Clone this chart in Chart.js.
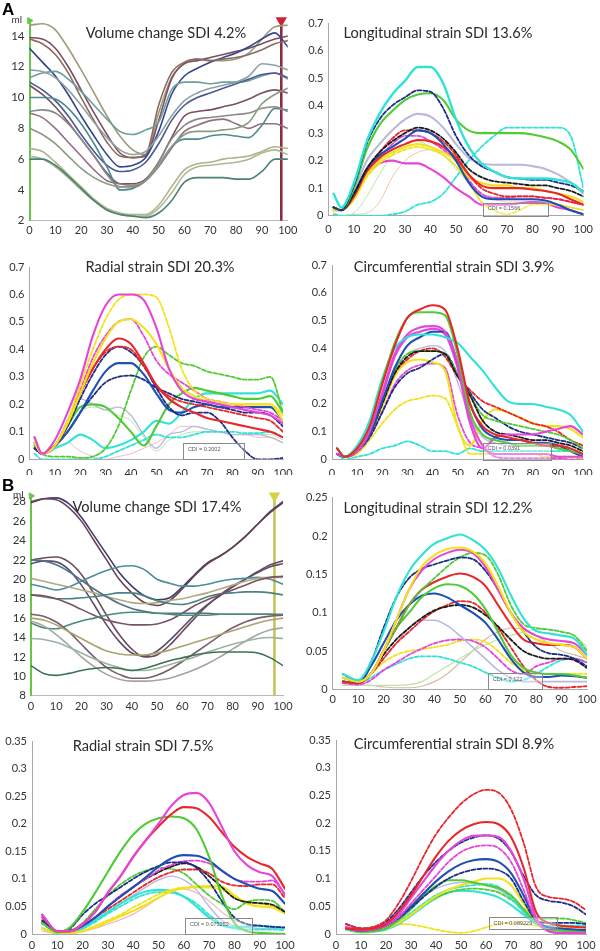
<!DOCTYPE html>
<html><head><meta charset="utf-8">
<script src="https://cdn.jsdelivr.net/npm/chart.js@4.4.1/dist/chart.umd.min.js"></script>
<style>
html,body{margin:0;padding:0;background:#fff}
#wrap{position:relative;width:600px;height:951px;overflow:hidden;background:#fff}
#wrap canvas{position:absolute}
.ttl{position:absolute;transform:translate(-50%,-50%);font-family:Lato,'Open Sans',sans-serif;font-size:14.6px;color:#2b2b2b;white-space:nowrap}
.lbl{position:absolute;font-family:'Liberation Sans',Arial,sans-serif;font-weight:bold;font-size:17px;color:#000}
.ml{position:absolute;font-family:Lato,sans-serif;font-size:10px;color:#333}
</style></head><body><div id="wrap"></div>
<script>
// ---------- x grids / ticks ----------
const volX  = [0,5,10,15,20,25,30,35,40,45,50,55,60,65,70,75,80,85,90,95,100];
const strAX = [2,5,10,15,20,25,30,35,40,45,50,55,60,65,70,75,80,85,90,95,100];
const strBX = [4,10,15,20,25,30,35,40,45,50,55,60,65,70,75,80,85,90,95,100];
const xTicks = [0,10,20,30,40,50,60,70,80,90,100];
const volAY = [2,4,6,8,10,12,14];
const volBY = [8,10,12,14,16,18,20,22,24,26,28];
const strAY = [0,0.1,0.2,0.3,0.4,0.5,0.6,0.7];
const lonBY = [0,0.05,0.1,0.15,0.2,0.25];
const strBY = [0,0.05,0.1,0.15,0.2,0.25,0.3,0.35];

// ---------- A: volume change (ml) ----------
const volA1  = [14.7,14.8,14.4,13.2,11.8,10.3,8.8,7.5,6.6,6.3,9.0,11.3,12.2,12.5,12.4,12.4,12.5,12.9,13.8,14.6,14.7];
const volA2  = [13.9,13.8,13.2,12.0,10.5,9.0,7.6,6.4,6.1,6.2,8.5,11.2,12.2,12.4,12.6,12.8,13.0,13.2,13.5,13.8,14.0];
const volA3  = [13.2,12.3,11.4,10.2,8.8,7.5,6.3,5.5,5.6,6.1,7.8,10.2,11.4,11.9,12.3,12.6,12.9,13.3,13.8,14.2,13.3];
const volA4  = [13.8,13.5,12.8,11.6,10.0,8.5,7.1,6.2,6.1,6.3,9.5,11.6,12.3,12.5,12.4,12.5,12.6,12.8,13.1,13.5,13.7];
const volA5  = [11.3,11.6,11.7,11.2,10.4,9.5,8.6,7.8,7.6,7.9,8.4,10.5,11.0,11.0,10.9,11.0,11.0,11.1,11.4,11.6,11.2];
const volA6  = [11.0,10.5,9.8,8.8,7.6,6.5,5.6,5.2,5.3,5.8,7.0,8.5,9.5,10.0,10.3,10.6,10.9,11.2,11.5,11.6,11.3];
const volA7  = [11.8,11.7,11.3,10.5,9.5,8.4,7.4,6.6,6.3,6.5,7.5,8.8,9.8,10.3,10.6,10.8,11.0,11.4,12.2,12.1,11.8];
const volA8  = [10.8,10.2,9.4,8.4,7.3,6.2,5.1,4.4,4.4,4.7,5.8,7.4,8.8,9.1,9.2,9.4,9.6,9.9,10.3,10.5,10.3];
const volA9  = [10.0,10.0,9.9,9.3,8.3,7.0,5.5,4.0,4.1,4.6,5.6,6.8,7.3,7.3,7.5,7.6,7.5,7.4,8.2,9.3,9.2];
const volA10 = [9.1,9.2,9.0,8.3,7.3,6.2,5.0,4.2,4.2,4.6,5.8,7.3,8.2,8.6,8.7,8.8,8.9,9.0,9.3,9.4,9.1];
const volA11 = [9.0,8.7,8.0,7.1,6.2,5.3,4.6,4.4,4.3,4.6,5.5,6.7,7.8,8.2,8.5,8.6,8.3,8.0,8.3,8.3,8.0];
const volA12 = [8.0,7.6,7.0,6.2,5.4,4.8,4.4,4.2,4.3,4.6,5.6,6.8,7.6,7.8,7.8,7.9,8.0,8.4,9.6,10.2,10.6];
const volA13 = [6.7,6.5,5.8,5.0,4.2,3.4,2.8,2.5,2.4,2.4,3.0,4.2,5.3,5.7,5.8,6.0,6.1,6.2,6.5,6.8,6.7];
const volA14 = [6.2,6.0,5.5,4.8,4.0,3.3,2.7,2.4,2.3,2.3,2.8,3.8,5.0,5.5,5.6,5.7,5.8,6.0,6.4,6.6,6.3];
const volA15 = [6.0,6.0,5.6,4.9,4.1,3.3,2.7,2.4,2.3,2.2,2.5,3.3,4.5,4.8,4.8,4.8,4.7,4.7,5.2,6.0,6.0];
const volAMarkerX = 97.5;

// ---------- A: longitudinal strain ----------
const lonA_cyan    = [0.08,0.03,0.12,0.27,0.37,0.44,0.49,0.54,0.54,0.48,0.35,0.25,0.19,0.16,0.14,0.135,0.135,0.135,0.13,0.12,0.085];
const lonA_blueD   = [0.03,0.02,0.11,0.26,0.35,0.40,0.43,0.455,0.45,0.39,0.29,0.22,0.18,0.16,0.14,0.135,0.13,0.13,0.12,0.11,0.09];
const lonA_green   = [0.03,0.02,0.10,0.24,0.33,0.38,0.42,0.44,0.445,0.42,0.35,0.31,0.30,0.30,0.30,0.30,0.295,0.285,0.27,0.24,0.17];
const lonA_lav     = [0.03,0.02,0.09,0.20,0.26,0.31,0.35,0.37,0.36,0.32,0.26,0.21,0.19,0.185,0.185,0.185,0.18,0.17,0.15,0.12,0.08];
const lonA_blackD  = [0.03,0.02,0.08,0.17,0.23,0.27,0.30,0.32,0.31,0.28,0.23,0.17,0.14,0.125,0.12,0.115,0.11,0.11,0.10,0.09,0.07];
const lonA_blue    = [0.03,0.02,0.08,0.17,0.22,0.25,0.28,0.31,0.30,0.26,0.20,0.12,0.07,0.06,0.06,0.06,0.06,0.055,0.04,0.02,0.005];
const lonA_redD    = [0.03,0.02,0.08,0.17,0.23,0.28,0.31,0.31,0.30,0.27,0.22,0.15,0.10,0.08,0.07,0.07,0.07,0.065,0.06,0.05,0.04];
const lonA_red     = [0.03,0.02,0.07,0.16,0.21,0.24,0.26,0.275,0.27,0.25,0.21,0.15,0.11,0.10,0.10,0.10,0.095,0.09,0.08,0.06,0.04];
const lonA_yellow  = [0.02,0.02,0.06,0.15,0.20,0.23,0.25,0.26,0.25,0.23,0.20,0.14,0.12,0.11,0.11,0.10,0.10,0.09,0.08,0.07,0.05];
const lonA_yellowD = [0.02,0.02,0.06,0.14,0.19,0.22,0.24,0.25,0.24,0.22,0.18,0.12,0.05,0.02,0.005,0.02,0.04,0.04,0.04,0.03,0.02];
const lonA_mag     = [0.02,0.02,0.07,0.15,0.19,0.20,0.19,0.19,0.17,0.14,0.10,0.07,0.04,0.04,0.04,0.045,0.05,0.045,0.03,0.02,0.005];
const lonA_magD    = [0.03,0.02,0.07,0.15,0.21,0.26,0.29,0.29,0.27,0.24,0.20,0.13,0.08,0.065,0.065,0.07,0.07,0.065,0.06,0.05,0.04];
const lonA_cyanD   = [0.005,0.0,0.0,0.0,0.0,0.005,0.015,0.04,0.05,0.08,0.14,0.20,0.25,0.29,0.32,0.32,0.32,0.32,0.32,0.29,0.10];
const lonA_peach   = [0.01,0.0,0.005,0.01,0.05,0.14,0.20,0.23,0.24,0.22,0.18,0.12,0.08,0.06,0.05,0.05,0.05,0.05,0.04,0.03,0.02];
const lonA_ltgreen = [0.01,0.0,0.01,0.07,0.15,0.22,0.26,0.27,0.25,0.22,0.17,0.12,0.08,0.07,0.06,0.06,0.06,0.05,0.04,0.03,0.02];
const lonA_box = [60.5,86,0,0.047];
const lonA_cdi = 'CDI = 0.1566';

// ---------- A: radial strain ----------
const radA_mag     = [0.08,0.02,0.07,0.17,0.29,0.45,0.56,0.60,0.60,0.58,0.48,0.33,0.25,0.22,0.21,0.20,0.19,0.18,0.17,0.16,0.13];
const radA_yellowD = [0.06,0.02,0.05,0.14,0.27,0.40,0.51,0.58,0.60,0.60,0.59,0.48,0.33,0.25,0.22,0.21,0.20,0.20,0.20,0.20,0.16];
const radA_yellow  = [0.06,0.02,0.05,0.13,0.24,0.35,0.44,0.50,0.51,0.48,0.42,0.33,0.26,0.23,0.21,0.20,0.20,0.20,0.20,0.20,0.14];
const radA_magD    = [0.06,0.02,0.05,0.14,0.25,0.37,0.45,0.50,0.51,0.45,0.36,0.31,0.28,0.25,0.22,0.21,0.20,0.19,0.18,0.17,0.14];
const radA_red     = [0.06,0.02,0.05,0.13,0.24,0.33,0.40,0.44,0.42,0.35,0.27,0.22,0.19,0.17,0.15,0.14,0.13,0.12,0.11,0.10,0.08];
const radA_redD    = [0.06,0.02,0.05,0.13,0.24,0.33,0.39,0.41,0.40,0.34,0.27,0.23,0.21,0.20,0.19,0.18,0.17,0.16,0.15,0.14,0.10];
const radA_navyD   = [0.04,0.02,0.05,0.12,0.22,0.31,0.38,0.41,0.39,0.34,0.26,0.19,0.16,0.17,0.17,0.14,0.08,0.03,0.0,0.0,0.005];
const radA_blue    = [0.04,0.02,0.05,0.10,0.17,0.25,0.32,0.35,0.35,0.31,0.24,0.18,0.17,0.19,0.20,0.19,0.19,0.19,0.19,0.19,0.14];
const radA_blackD  = [0.04,0.02,0.05,0.10,0.17,0.23,0.28,0.30,0.305,0.29,0.26,0.24,0.22,0.21,0.20,0.19,0.18,0.17,0.17,0.16,0.12];
const radA_greenD  = [0.05,0.02,0.01,0.01,0.005,0.01,0.04,0.12,0.25,0.37,0.41,0.38,0.35,0.34,0.32,0.31,0.30,0.29,0.29,0.30,0.17];
const radA_green   = [0.08,0.02,0.05,0.12,0.19,0.20,0.19,0.15,0.10,0.05,0.12,0.20,0.24,0.26,0.25,0.24,0.23,0.22,0.22,0.23,0.17];
const radA_cyan    = [0.05,0.02,0.04,0.06,0.09,0.07,0.04,0.05,0.07,0.10,0.14,0.13,0.17,0.22,0.24,0.24,0.24,0.24,0.24,0.25,0.20];
const radA_cyanD   = [0.02,0.0,0.0,0.0,0.0,0.0,0.01,0.03,0.05,0.07,0.09,0.08,0.08,0.09,0.10,0.10,0.10,0.095,0.095,0.10,0.08];
const radA_lav     = [0.05,0.02,0.04,0.12,0.22,0.20,0.18,0.19,0.16,0.09,0.04,0.09,0.10,0.12,0.11,0.10,0.09,0.09,0.09,0.08,0.06];
const radA_ltgreen = [0.06,0.02,0.04,0.10,0.17,0.19,0.18,0.16,0.14,0.08,0.03,0.07,0.09,0.10,0.10,0.10,0.09,0.09,0.09,0.09,0.07];
const radA_pink    = [0.05,0.02,0.04,0.06,0.03,0.01,0.0,0.01,0.02,0.04,0.06,0.09,0.12,0.12,0.11,0.10,0.09,0.09,0.08,0.08,0.06];
const radA_box = [60.5,84.5,0,0.058];
const radA_cdi = 'CDI = 0.2002';

// ---------- A: circumferential strain ----------
const circA_red     = [0.04,0.01,0.04,0.12,0.27,0.41,0.51,0.54,0.555,0.54,0.40,0.20,0.12,0.09,0.08,0.07,0.06,0.05,0.05,0.04,0.02];
const circA_green   = [0.04,0.01,0.04,0.12,0.28,0.42,0.51,0.53,0.53,0.52,0.38,0.17,0.09,0.07,0.06,0.05,0.05,0.05,0.04,0.03,0.02];
const circA_cyan    = [0.04,0.01,0.05,0.14,0.29,0.40,0.44,0.45,0.45,0.44,0.42,0.37,0.32,0.26,0.21,0.20,0.20,0.19,0.18,0.16,0.10];
const circA_mag     = [0.02,0.01,0.03,0.10,0.24,0.38,0.45,0.475,0.48,0.46,0.35,0.15,0.05,0.02,0.02,0.02,0.02,0.02,0.01,0.01,0.01];
const circA_blue    = [0.02,0.01,0.03,0.09,0.21,0.33,0.41,0.44,0.46,0.46,0.35,0.20,0.11,0.08,0.07,0.07,0.06,0.06,0.05,0.03,0.01];
const circA_blackD  = [0.02,0.01,0.03,0.09,0.20,0.31,0.37,0.39,0.39,0.38,0.30,0.23,0.14,0.10,0.09,0.08,0.07,0.07,0.06,0.05,0.03];
const circA_greenD  = [0.02,0.01,0.03,0.09,0.20,0.32,0.38,0.39,0.39,0.38,0.31,0.23,0.16,0.14,0.13,0.12,0.11,0.10,0.09,0.07,0.04];
const circA_navyD   = [0.02,0.01,0.03,0.08,0.17,0.26,0.31,0.33,0.36,0.38,0.31,0.24,0.18,0.15,0.12,0.10,0.09,0.08,0.07,0.06,0.04];
const circA_redD    = [0.02,0.01,0.03,0.09,0.20,0.31,0.36,0.39,0.40,0.37,0.30,0.25,0.21,0.19,0.17,0.15,0.13,0.12,0.10,0.07,0.05];
const circA_yellow  = [0.02,0.01,0.03,0.09,0.19,0.30,0.35,0.36,0.35,0.32,0.12,0.05,0.14,0.18,0.17,0.15,0.13,0.12,0.12,0.11,0.08];
const circA_magD    = [0.02,0.01,0.03,0.08,0.17,0.27,0.32,0.34,0.345,0.33,0.16,0.06,0.04,0.01,0.005,0.005,0.005,0.005,0.005,0.0,0.0];
const circA_yellowD = [0.02,0.01,0.02,0.07,0.13,0.18,0.21,0.22,0.23,0.22,0.12,0.02,0.02,0.02,0.02,0.02,0.02,0.01,0.01,0.01,0.0];
const circA_cyanD   = [0.02,0.0,0.01,0.02,0.04,0.05,0.065,0.05,0.03,0.03,0.02,0.04,0.03,0.03,0.03,0.03,0.03,0.03,0.03,0.03,0.02];
const circA_mag2    = [0.02,0.01,0.03,0.10,0.23,0.37,0.44,0.46,0.47,0.45,0.33,0.13,0.04,0.08,0.09,0.09,0.09,0.10,0.11,0.12,0.09];
const circA_lav     = [0.02,0.01,0.03,0.09,0.20,0.32,0.38,0.40,0.41,0.39,0.28,0.15,0.08,0.06,0.05,0.05,0.05,0.05,0.04,0.03,0.02];
const circA_box = [60,87,0,0.06];
const circA_cdi = 'CDI = 0.0391';

// ---------- B: volume change (ml) ----------
const volB1  = [27.9,28.3,28.4,27.8,26.4,24.5,22.6,20.7,19.3,18.3,17.9,18.1,19.2,20.5,21.7,22.4,23.3,24.4,25.7,27.0,28.0];
const volB2  = [28.0,28.3,28.2,27.4,26.0,24.0,22.0,20.0,18.6,17.6,17.3,17.8,19.0,20.4,21.6,22.4,23.3,24.4,25.7,26.9,27.9];
const volB3  = [22.0,22.2,22.3,21.8,20.5,18.5,16.3,14.3,12.8,12.0,12.2,13.2,14.6,16.0,17.3,18.4,19.3,20.0,20.7,21.3,21.6];
const volB4  = [21.6,21.9,21.8,21.0,19.4,17.4,15.3,13.6,12.4,12.1,12.6,13.7,15.0,16.3,17.4,18.3,19.2,20.0,20.8,21.5,21.9];
const volB5  = [19.5,19.2,18.9,19.2,19.8,20.4,20.9,21.3,21.4,21.0,20.0,19.6,19.3,19.3,19.5,19.8,20.0,20.1,20.2,20.0,19.5];
const volB6  = [20.1,19.8,19.5,19.2,18.9,18.6,18.2,17.9,17.6,17.5,17.6,17.8,18.0,18.3,18.6,19.0,19.4,19.8,20.1,20.2,20.2];
const volB7  = [18.4,18.2,18.0,18.0,18.1,18.2,18.4,18.6,18.6,18.3,17.8,17.5,17.4,17.7,18.2,18.5,18.6,18.7,18.7,18.6,18.4];
const volB8  = [18.4,18.3,18.0,17.5,16.9,16.3,15.8,15.5,15.3,15.3,15.4,15.8,16.5,17.3,17.9,18.4,18.9,19.4,19.9,20.2,20.3];
const volB9  = [22.0,21.9,21.5,20.8,19.9,19.0,18.2,17.5,17.0,16.7,16.5,16.5,16.5,16.5,16.5,16.4,16.4,16.4,16.4,16.4,16.3];
const volB10 = [15.5,15.0,14.9,15.3,15.7,16.0,16.3,16.5,16.6,16.6,16.5,16.4,16.3,16.3,16.3,16.4,16.4,16.4,16.4,16.4,16.4];
const volB11 = [16.4,16.2,15.6,14.6,13.3,12.0,10.9,10.2,9.8,9.8,10.1,10.7,11.5,12.4,13.3,14.2,15.0,15.6,16.0,16.2,16.3];
const volB12 = [16.0,15.8,15.3,14.6,13.9,13.2,12.6,12.3,12.2,12.2,12.4,12.7,13.1,13.5,13.9,14.3,14.7,15.1,15.5,15.8,16.0];
const volB13 = [15.7,15.2,14.3,13.2,12.0,11.0,10.2,9.7,9.5,9.5,9.6,9.8,10.2,10.7,11.3,12.0,12.8,13.6,14.3,14.8,15.0];
const volB14 = [13.9,13.8,13.5,13.0,12.4,11.8,11.3,10.9,10.6,10.6,10.8,11.2,11.6,12.0,12.5,12.9,13.3,13.6,13.9,14.0,13.9];
const volB15 = [11.1,10.3,10.1,10.3,10.6,10.8,10.9,10.8,10.6,10.8,11.2,11.6,11.9,12.2,12.4,12.5,12.5,12.5,12.4,11.9,11.1];
const volBMarkerX = 96.6;

// ---------- B: longitudinal strain ----------
const lonB_cyan    = [0.02,0.012,0.035,0.075,0.12,0.154,0.175,0.19,0.197,0.202,0.195,0.182,0.158,0.123,0.093,0.076,0.073,0.07,0.066,0.045];
const lonB_yellow  = [0.015,0.01,0.02,0.05,0.09,0.13,0.16,0.175,0.183,0.185,0.18,0.165,0.135,0.10,0.075,0.065,0.06,0.058,0.055,0.04];
const lonB_mag     = [0.015,0.01,0.02,0.05,0.09,0.13,0.155,0.17,0.178,0.182,0.178,0.16,0.13,0.10,0.08,0.07,0.065,0.063,0.06,0.045];
const lonB_blueD   = [0.02,0.01,0.035,0.08,0.12,0.145,0.157,0.163,0.168,0.172,0.17,0.155,0.13,0.10,0.075,0.055,0.047,0.045,0.04,0.03];
const lonB_greenD  = [0.015,0.01,0.02,0.05,0.08,0.11,0.13,0.145,0.16,0.172,0.178,0.175,0.15,0.11,0.085,0.08,0.078,0.075,0.07,0.05];
const lonB_red     = [0.01,0.008,0.02,0.05,0.08,0.11,0.13,0.14,0.147,0.151,0.147,0.135,0.11,0.085,0.065,0.06,0.058,0.058,0.055,0.04];
const lonB_green   = [0.01,0.008,0.02,0.05,0.08,0.10,0.12,0.132,0.137,0.135,0.125,0.105,0.075,0.045,0.028,0.022,0.02,0.02,0.018,0.015];
const lonB_blue    = [0.01,0.008,0.03,0.06,0.09,0.11,0.122,0.125,0.12,0.11,0.10,0.087,0.065,0.04,0.022,0.016,0.016,0.018,0.017,0.015];
const lonB_blackD  = [0.01,0.008,0.02,0.045,0.065,0.08,0.093,0.103,0.108,0.11,0.107,0.097,0.082,0.065,0.05,0.043,0.04,0.04,0.038,0.028];
const lonB_redD    = [0.01,0.008,0.02,0.04,0.06,0.075,0.09,0.102,0.11,0.115,0.113,0.10,0.08,0.055,0.03,0.012,0.003,0.002,0.003,0.004];
const lonB_lav     = [0.01,0.008,0.02,0.04,0.06,0.08,0.09,0.09,0.083,0.07,0.055,0.04,0.025,0.015,0.01,0.01,0.01,0.01,0.01,0.01];
const lonB_magD    = [0.008,0.006,0.012,0.025,0.035,0.045,0.053,0.06,0.064,0.065,0.063,0.055,0.04,0.025,0.02,0.03,0.035,0.04,0.04,0.035];
const lonB_yellowD = [0.01,0.008,0.02,0.035,0.045,0.05,0.052,0.055,0.058,0.063,0.065,0.062,0.05,0.035,0.025,0.02,0.02,0.02,0.02,0.02];
const lonB_cyanD   = [0.01,0.008,0.015,0.025,0.033,0.04,0.043,0.043,0.04,0.035,0.03,0.022,0.015,0.01,0.012,0.02,0.03,0.038,0.04,0.035];
const lonB_tan     = [0.005,0.005,0.005,0.003,0.002,0.002,0.004,0.01,0.02,0.035,0.05,0.065,0.075,0.08,0.078,0.07,0.06,0.05,0.045,0.04];
const lonB_ltgreen = [0.005,0.005,0.005,0.005,0.005,0.006,0.01,0.02,0.03,0.04,0.05,0.058,0.065,0.07,0.075,0.078,0.078,0.075,0.07,0.055];
const lonB_box = [61,82.3,0,0.021];
const lonB_cdi = 'CDI = 0.122';

// ---------- B: radial strain ----------
const radB_mag     = [0.035,0.005,0.005,0.018,0.04,0.075,0.105,0.14,0.17,0.2,0.232,0.252,0.256,0.238,0.195,0.15,0.125,0.112,0.105,0.07];
const radB_red     = [0.035,0.005,0.005,0.018,0.04,0.075,0.105,0.14,0.17,0.195,0.217,0.23,0.228,0.212,0.185,0.158,0.14,0.128,0.118,0.082];
const radB_green   = [0.02,0.003,0.012,0.04,0.075,0.113,0.15,0.18,0.2,0.21,0.213,0.21,0.19,0.14,0.07,0.02,0.005,0.002,0.001,0.0];
const radB_blue    = [0.02,0.005,0.006,0.015,0.03,0.05,0.068,0.085,0.103,0.122,0.137,0.143,0.142,0.133,0.115,0.10,0.09,0.082,0.078,0.055];
const radB_blueD   = [0.025,0.005,0.01,0.035,0.055,0.07,0.085,0.10,0.113,0.123,0.13,0.13,0.12,0.095,0.06,0.03,0.018,0.015,0.013,0.012];
const radB_magD    = [0.03,0.005,0.005,0.015,0.03,0.05,0.07,0.085,0.10,0.115,0.125,0.132,0.133,0.128,0.115,0.10,0.095,0.095,0.097,0.073];
const radB_redD    = [0.03,0.005,0.005,0.015,0.03,0.045,0.06,0.075,0.09,0.103,0.112,0.117,0.117,0.11,0.095,0.088,0.087,0.09,0.09,0.065];
const radB_blackD  = [0.022,0.005,0.006,0.015,0.03,0.05,0.068,0.085,0.10,0.112,0.122,0.128,0.122,0.105,0.085,0.065,0.058,0.056,0.053,0.04];
const radB_greenD  = [0.02,0.004,0.006,0.02,0.045,0.07,0.09,0.105,0.115,0.12,0.118,0.11,0.09,0.07,0.055,0.045,0.058,0.062,0.06,0.04];
const radB_yellow  = [0.01,0.002,0.002,0.005,0.012,0.022,0.032,0.042,0.053,0.066,0.077,0.083,0.086,0.087,0.086,0.07,0.055,0.05,0.048,0.037];
const radB_yellowD = [0.01,0.002,0.002,0.006,0.015,0.025,0.035,0.048,0.06,0.072,0.08,0.084,0.084,0.084,0.08,0.068,0.058,0.055,0.05,0.04];
const radB_cyan    = [0.01,0.002,0.003,0.01,0.025,0.04,0.055,0.068,0.077,0.08,0.078,0.068,0.05,0.03,0.016,0.012,0.014,0.015,0.013,0.011];
const radB_cyanD   = [0.01,0.002,0.003,0.01,0.022,0.037,0.05,0.063,0.072,0.076,0.075,0.068,0.055,0.035,0.018,0.01,0.008,0.008,0.008,0.007];
const radB_lav     = [0.01,0.003,0.004,0.012,0.025,0.04,0.055,0.07,0.085,0.098,0.105,0.098,0.08,0.05,0.025,0.015,0.012,0.01,0.01,0.01];
const radB_pink    = [0.005,0.001,0.001,0.004,0.01,0.018,0.026,0.036,0.05,0.065,0.078,0.082,0.075,0.06,0.04,0.025,0.018,0.015,0.012,0.01];
const radB_box = [60.5,87,0,0.029];
const radB_cdi = 'CDI = 0.075252';

// ---------- B: circumferential strain ----------
const circB_redD    = [0.018,0.01,0.013,0.025,0.055,0.095,0.14,0.18,0.21,0.235,0.252,0.26,0.255,0.225,0.165,0.085,0.067,0.064,0.058,0.043];
const circB_red     = [0.01,0.008,0.01,0.018,0.04,0.07,0.105,0.14,0.168,0.187,0.198,0.202,0.198,0.175,0.12,0.04,0.02,0.015,0.013,0.012];
const circB_mag     = [0.012,0.008,0.01,0.018,0.035,0.065,0.095,0.125,0.15,0.168,0.177,0.178,0.175,0.15,0.10,0.03,0.005,0.002,0.002,0.002];
const circB_blueD   = [0.018,0.01,0.012,0.022,0.045,0.075,0.105,0.13,0.15,0.165,0.174,0.178,0.172,0.148,0.105,0.07,0.06,0.057,0.05,0.035];
const circB_magD    = [0.01,0.006,0.008,0.015,0.03,0.055,0.08,0.105,0.13,0.148,0.157,0.16,0.155,0.13,0.08,0.025,0.005,0.002,0.002,0.002];
const circB_blue    = [0.01,0.006,0.008,0.015,0.03,0.05,0.073,0.095,0.113,0.126,0.133,0.135,0.13,0.11,0.07,0.025,0.012,0.01,0.008,0.007];
const circB_navyD   = [0.012,0.006,0.008,0.015,0.028,0.047,0.067,0.085,0.10,0.11,0.116,0.118,0.115,0.10,0.06,0.025,0.02,0.02,0.02,0.018];
const circB_green   = [0.01,0.004,0.005,0.01,0.025,0.045,0.068,0.087,0.097,0.097,0.093,0.088,0.083,0.07,0.045,0.02,0.008,0.006,0.005,0.005];
const circB_yellow  = [0.01,0.004,0.005,0.01,0.02,0.035,0.052,0.068,0.08,0.088,0.094,0.10,0.10,0.088,0.055,0.02,0.008,0.006,0.005,0.005];
const circB_cyanD   = [0.01,0.004,0.005,0.01,0.022,0.038,0.055,0.07,0.08,0.085,0.088,0.09,0.085,0.065,0.04,0.02,0.015,0.015,0.015,0.015];
const circB_greenD  = [0.01,0.004,0.005,0.01,0.02,0.035,0.052,0.065,0.075,0.08,0.082,0.08,0.075,0.062,0.045,0.03,0.028,0.028,0.025,0.02];
const circB_cyan    = [0.008,0.003,0.004,0.008,0.018,0.033,0.05,0.065,0.075,0.078,0.077,0.073,0.066,0.052,0.035,0.018,0.01,0.008,0.007,0.006];
const circB_yellowD = [0.012,0.01,0.012,0.016,0.018,0.017,0.013,0.008,0.004,0.002,0.005,0.012,0.018,0.02,0.018,0.015,0.013,0.012,0.012,0.01];
const circB_lav     = [0.01,0.006,0.007,0.014,0.03,0.05,0.068,0.082,0.09,0.093,0.092,0.088,0.08,0.065,0.04,0.02,0.012,0.01,0.009,0.008];
const circB_box = [61,88,0.008,0.03];
const circB_cdi = 'CDI = 0.089229';

// ---------- styles ----------
const C = {red:'#e8262b', mag:'#e645d8', blue:'#1f4fb4', navy:'#1c2f86', black:'#1a1a1a', green:'#4fcb36',
  cyan:'#2fe3d5', yellow:'#f1e21a', lav:'#b9b9de', pink:'#f2b7cb', ltgreen:'#b9e6a8', peach:'#f2c6a4', tan:'#d9bba3'};
const D = [4,2];
const S = (v,c,d,w)=>({v, c, d: d?D:[], w: w||(d?1.8:2.1)});

const panels = [
 {rect:[0,0,300,240], area:[29.5,20.6,289.5,220.7], x:volX, yMin:2, yMax:15, yTicks:volAY, xPad:2.7, vol:true,
  axisColor:'#67c64a', marker:volAMarkerX, markerColor:'#8c2c40', markerTip:'#d0203a', title:'Volume change SDI 4.2%', tpos:[166,32],
  series:[S(volA1,'#9c9c78',0,1.6),S(volA2,'#7b4f60',0,1.6),S(volA3,'#34468c',0,1.6),S(volA4,'#8b6a62',0,1.6),S(volA5,'#6f9c9c',0,1.6),
          S(volA6,'#4a5a92',0,1.6),S(volA7,'#8ea2a2',0,1.6),S(volA8,'#7a5062',0,1.6),S(volA9,'#4b8b92',0,1.6),S(volA10,'#8a8a8a',0,1.6),
          S(volA11,'#917083',0,1.6),S(volA12,'#8b9b82',0,1.6),S(volA13,'#b2b28a',0,1.6),S(volA14,'#a9ba92',0,1.6),S(volA15,'#4b8171',0,1.6)]},
 {rect:[300,0,300,240], area:[328.5,23,590,215.7], x:strAX, yMin:0, yMax:0.7, yTicks:strAY, xPad:7,
  title:'Longitudinal strain SDI 13.6%', tpos:[438,31.5], box:lonA_box, cdi:lonA_cdi,
  series:[S(lonA_peach,C.peach,0,1),S(lonA_ltgreen,C.ltgreen,0,1),S(lonA_cyanD,C.cyan,1),S(lonA_lav,C.lav),S(lonA_mag,C.mag),S(lonA_magD,C.mag,1),
          S(lonA_yellowD,C.yellow,1),S(lonA_yellow,C.yellow),S(lonA_red,C.red),S(lonA_redD,C.red,1),S(lonA_blue,C.blue),S(lonA_blackD,C.black,1),
          S(lonA_green,C.green),S(lonA_blueD,C.navy,1),S(lonA_cyan,C.cyan,0,2.4)]},
 {rect:[0,240,300,235], area:[29.5,267,289.5,459.3], x:strAX, yMin:0, yMax:0.7, yTicks:strAY, xPad:7.4,
  title:'Radial strain SDI 20.3%', tpos:[160,266], box:radA_box, cdi:radA_cdi,
  series:[S(radA_pink,C.pink,0,1),S(radA_ltgreen,C.ltgreen,0,1),S(radA_lav,C.lav,0,1.4),S(radA_cyanD,C.cyan,1),S(radA_cyan,C.cyan),
          S(radA_green,C.green),S(radA_greenD,C.green,1),S(radA_blackD,C.navy,1),S(radA_blue,C.blue),S(radA_navyD,C.navy,1),
          S(radA_redD,C.red,1),S(radA_red,C.red),S(radA_magD,C.mag,1),S(radA_yellow,C.yellow),S(radA_yellowD,C.yellow,1),S(radA_mag,C.mag)]},
 {rect:[300,240,300,235], area:[332,265,590,459.5], x:strAX, yMin:0, yMax:0.7, yTicks:strAY, xPad:7.4,
  title:'Circumferential strain SDI 3.9%', tpos:[454,266], box:circA_box, cdi:circA_cdi,
  series:[S(circA_lav,C.lav,0,1.4),S(circA_cyanD,C.cyan,1),S(circA_yellowD,C.yellow,1),S(circA_magD,C.mag,1),S(circA_yellow,C.yellow),
          S(circA_redD,C.red,1),S(circA_navyD,C.navy,1),S(circA_greenD,C.green,1),S(circA_blackD,C.black,1),S(circA_mag2,C.mag),
          S(circA_blue,C.blue),S(circA_mag,C.mag),S(circA_cyan,C.cyan),S(circA_green,C.green),S(circA_red,C.red)]},
 {rect:[0,475,300,240], area:[31,495.9,283,695.7], x:volX, yMin:8, yMax:28.6, yTicks:volBY, xPad:3.7, vol:true,
  axisColor:'#67c64a', marker:volBMarkerX, markerColor:'#c4c45a', markerTip:'#d8d040', title:'Volume change SDI 17.4%', tpos:[157,506],
  series:[S(volB1,'#3e3e6c',0,1.6),S(volB2,'#6c4252',0,1.6),S(volB3,'#6c4c5c',0,1.6),S(volB4,'#5c4c6c',0,1.6),S(volB5,'#4c8c9c',0,1.6),
          S(volB6,'#b2aa82',0,1.6),S(volB7,'#4c8282',0,1.6),S(volB8,'#7c5262',0,1.6),S(volB9,'#52728c',0,1.6),S(volB10,'#4c8c72',0,1.6),
          S(volB11,'#7c5c6c',0,1.6),S(volB12,'#aaa272',0,1.6),S(volB13,'#a4a4a4',0,1.6),S(volB14,'#9cb2a2',0,1.6),S(volB15,'#3c7252',0,1.6)]},
 {rect:[300,475,300,240], area:[332.7,497.7,592.7,689.3], x:strBX, yMin:0, yMax:0.25, yTicks:lonBY, xPad:3.4,
  title:'Longitudinal strain SDI 12.2%', tpos:[438,507], box:lonB_box, cdi:lonB_cdi,
  series:[S(lonB_tan,C.tan,0,1.2),S(lonB_ltgreen,C.ltgreen,0,1.2),S(lonB_cyanD,C.cyan,1),S(lonB_yellowD,C.yellow,1),S(lonB_magD,C.mag,1),
          S(lonB_lav,C.lav,0,1.6),S(lonB_redD,C.red,1),S(lonB_blackD,C.black,1),S(lonB_blue,C.blue),S(lonB_green,C.green),S(lonB_red,C.red),
          S(lonB_greenD,C.green,1),S(lonB_blueD,C.navy,1),S(lonB_mag,C.mag),S(lonB_yellow,C.yellow),S(lonB_cyan,C.cyan)]},
 {rect:[0,715,300,236], area:[32,741,285,934], x:strBX, yMin:0, yMax:0.35, yTicks:strBY, xPad:4.4,
  title:'Radial strain SDI 7.5%', tpos:[143,745], box:radB_box, cdi:radB_cdi,
  series:[S(radB_pink,C.pink,0,1.2),S(radB_lav,C.lav,0,1.4),S(radB_cyanD,C.cyan,1),S(radB_cyan,C.cyan),S(radB_yellowD,C.yellow,1),
          S(radB_yellow,C.yellow),S(radB_greenD,C.green,1),S(radB_blackD,C.black,1),S(radB_redD,C.red,1),S(radB_magD,C.mag,1),
          S(radB_blueD,C.navy,1),S(radB_blue,C.blue),S(radB_green,C.green),S(radB_red,C.red),S(radB_mag,C.mag)]},
 {rect:[300,715,300,236], area:[336,740,588,934], x:strBX, yMin:0, yMax:0.35, yTicks:strBY, xPad:4.4,
  title:'Circumferential strain SDI 8.9%', tpos:[454,743], box:circB_box, cdi:circB_cdi,
  series:[S(circB_lav,C.lav,0,1.4),S(circB_yellowD,C.yellow,1),S(circB_cyan,C.cyan),S(circB_greenD,C.green,1),S(circB_cyanD,C.cyan,1),
          S(circB_yellow,C.yellow),S(circB_green,C.green),S(circB_navyD,C.navy,1),S(circB_blue,C.blue),S(circB_magD,C.mag,1),
          S(circB_blueD,C.navy,1),S(circB_mag,C.mag),S(circB_red,C.red),S(circB_redD,C.red,1)]}
];

const cdiPlugin = {
  id:'cdi',
  afterDatasetsDraw(chart, args, o){
    if(!o.box) return;
    const xs = chart.scales.x, ys = chart.scales.y, ctx = chart.ctx;
    const x0 = xs.getPixelForValue(o.box[0]), x1 = xs.getPixelForValue(o.box[1]);
    const y0 = ys.getPixelForValue(o.box[2]), y1 = ys.getPixelForValue(o.box[3]);
    ctx.save();
    ctx.fillStyle='rgba(255,255,255,0.35)';
    ctx.fillRect(x0,y1,x1-x0,y0-y1);
    ctx.strokeStyle='#8a8a8a'; ctx.lineWidth=1;
    ctx.strokeRect(Math.round(x0)+0.5,Math.round(y1)+0.5,Math.round(x1-x0),Math.round(y0-y1));
    ctx.font='5.5px "Liberation Sans",Arial'; ctx.fillStyle='#555'; ctx.textBaseline='middle';
    ctx.fillText(o.text, x0+5, y1+Math.min(6,(y0-y1)/2));
    ctx.restore();
  }
};

const wrap = document.getElementById('wrap');
const fmt = v => String(+(+v).toFixed(2));

panels.forEach(p=>{
  const [L,T,W,H] = p.rect, [al,at,ar,ab] = p.area;
  const cv = document.createElement('canvas');
  cv.width=W; cv.height=H; cv.style.left=L+'px'; cv.style.top=T+'px';
  cv.style.width=W+'px'; cv.style.height=H+'px';
  wrap.appendChild(cv);
  const ds = p.series.map(s=>({
    data: p.x.map((xx,i)=>({x:xx, y:s.v[i]})),
    borderColor:s.c, borderWidth:s.w, borderDash:s.d, pointRadius:0, fill:false,
    cubicInterpolationMode:'monotone', borderCapStyle:'round', borderJoinStyle:'round'
  })).reverse();
  if(p.vol){
    ds.push({data:[{x:p.marker,y:p.yMin},{x:p.marker,y:p.yMax}], borderColor:p.markerColor, borderWidth:2.6,
      pointRadius:[0,4], pointStyle:'triangle', rotation:180, pointBackgroundColor:p.markerTip, pointBorderColor:p.markerTip, clip:false, tension:0});
    ds.push({data:[{x:0,y:p.yMax}], showLine:false, pointRadius:3.5, pointStyle:'triangle', rotation:90,
      pointBackgroundColor:p.axisColor, pointBorderColor:p.axisColor, clip:false});
  }
  new Chart(cv, {
    type:'line',
    data:{datasets:ds},
    plugins:[cdiPlugin],
    options:{
      responsive:false, animation:false, events:[], devicePixelRatio:1,
      layout:{padding:{left:0, top:at-T, right:(L+W)-ar, bottom:0}},
      plugins:{legend:{display:false}, tooltip:{enabled:false}, title:{display:false},
        cdi:{box:p.box, text:p.cdi}},
      scales:{
        x:{type:'linear', min:0, max:100,
          afterBuildTicks:s=>{s.ticks = xTicks.map(v=>({value:v}));},
          afterFit:s=>{s.height = (T+H)-ab;},
          grid:{display:false, drawTicks:false},
          border:p.vol ? {color:'#b8b8b8', width:1, dash:[2,2]} : {color:'#a8a8a8', width:1},
          ticks:{autoSkip:false, maxRotation:0, padding:p.xPad, color:'#333', font:{family:'Lato', size:11}}},
        y:{type:'linear', min:p.yMin, max:p.yMax,
          afterBuildTicks:s=>{s.ticks = p.yTicks.map(v=>({value:v}));},
          afterFit:s=>{s.width = al-L;},
          grid:{display:false, drawTicks:false},
          border:p.vol ? {color:p.axisColor, width:2} : {color:'#a8a8a8', width:1},
          ticks:{padding:5, color:'#333', font:{family:'Lato', size:p.vol?11.5:11}, callback:v=>fmt(v)}}
      }
    }
  });
  const t = document.createElement('div');
  t.className='ttl'; t.textContent=p.title;
  t.style.left=p.tpos[0]+'px'; t.style.top=p.tpos[1]+'px';
  wrap.appendChild(t);
  if(p.vol){
    const m = document.createElement('div');
    m.className='ml'; m.textContent='ml';
    m.style.left=(al-18)+'px'; m.style.top=(at-8)+'px';
    wrap.appendChild(m);
  }
});

[['A',2,0],['B',2,476]].forEach(([s,x,y])=>{
  const d=document.createElement('div'); d.className='lbl'; d.textContent=s;
  d.style.left=x+'px'; d.style.top=y+'px'; wrap.appendChild(d);
});
</script></body></html>
